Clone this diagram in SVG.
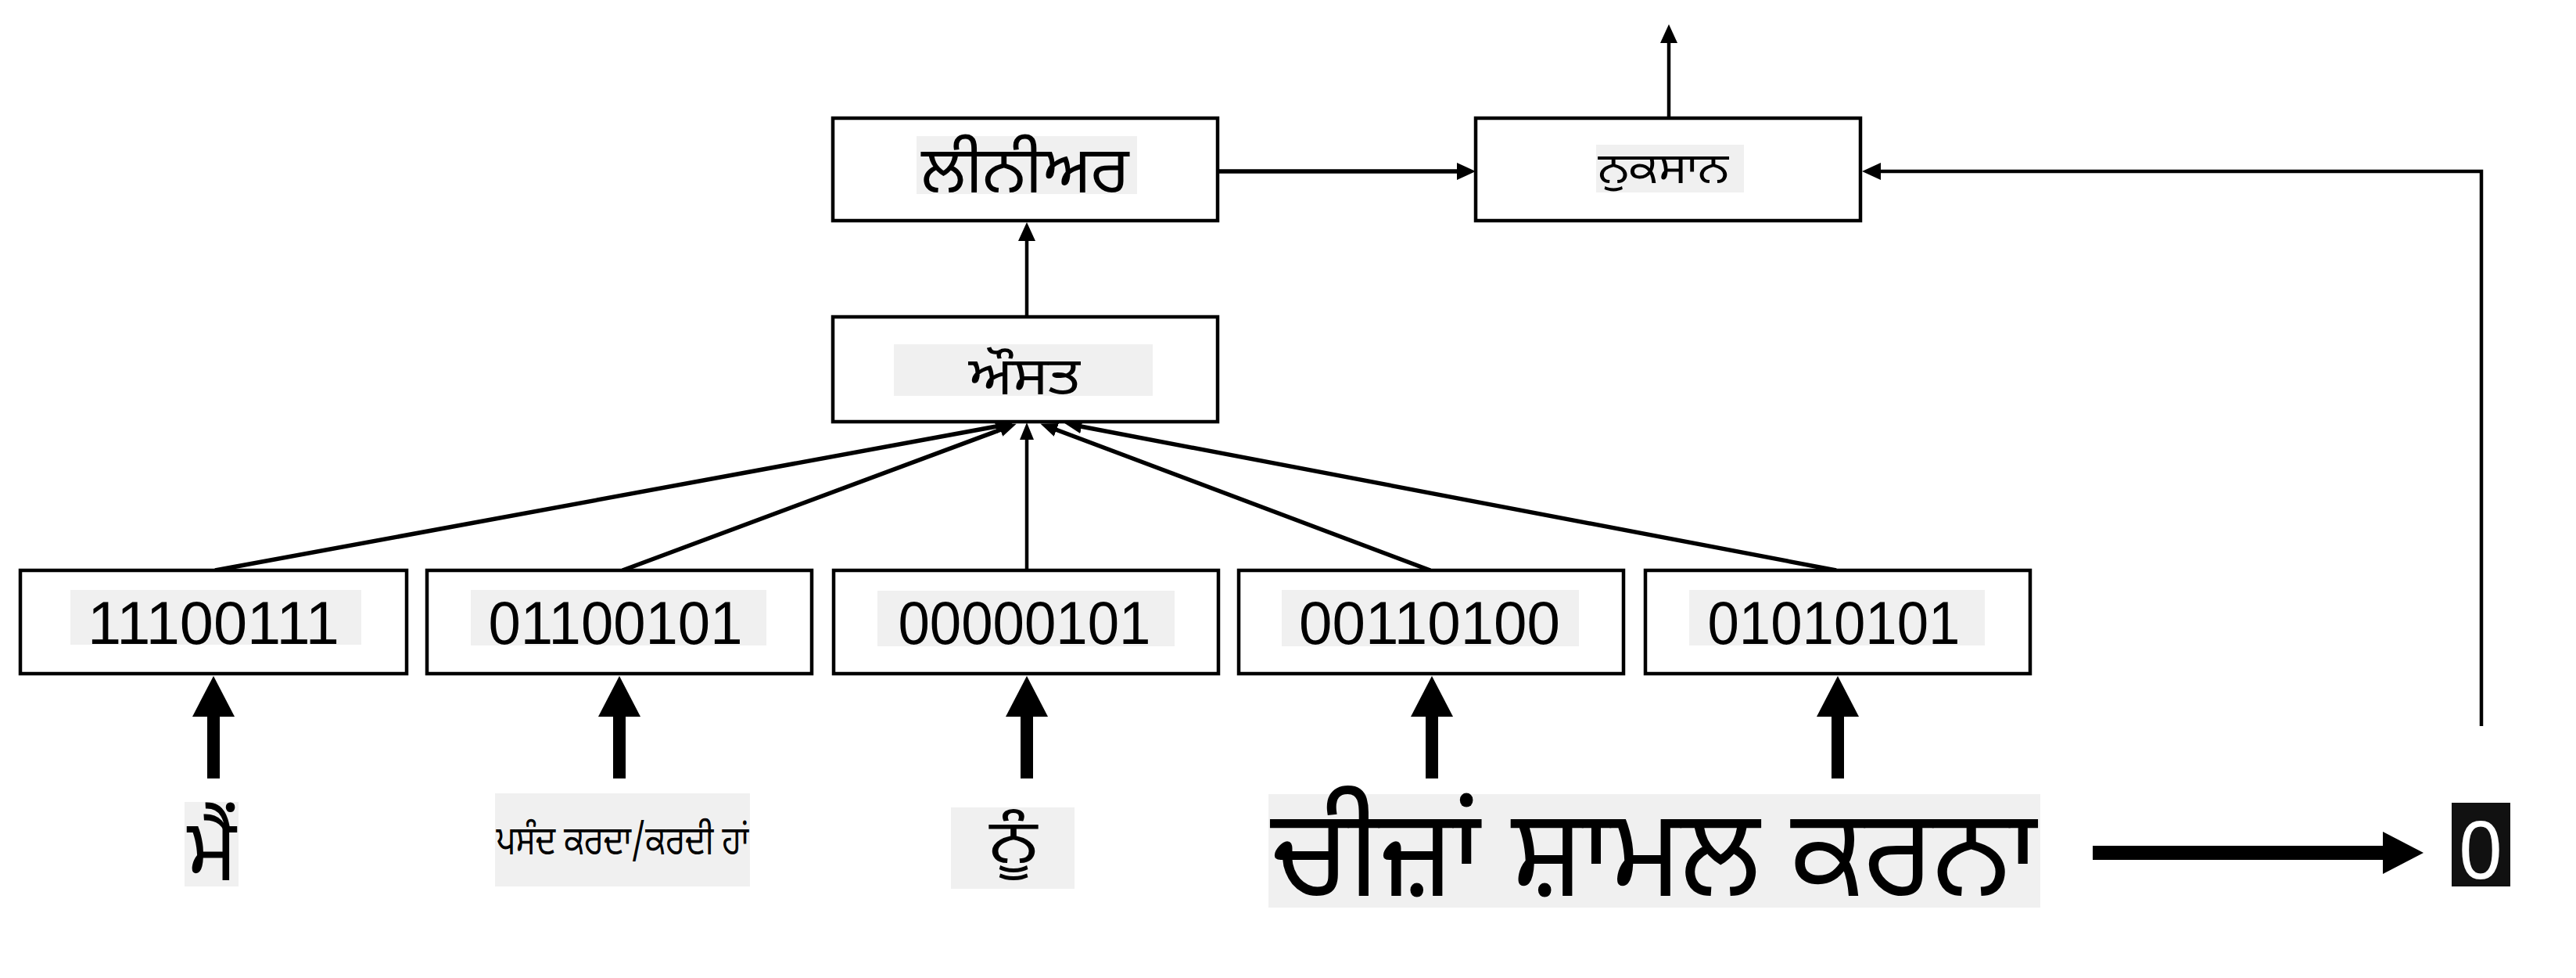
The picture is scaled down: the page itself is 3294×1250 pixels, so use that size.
<svg xmlns="http://www.w3.org/2000/svg" width="3294" height="1250" viewBox="0 0 3294 1250">
<style>
.box{fill:#fff;stroke:#000;stroke-width:4.5}
.bg{fill:#f0f0f0}
.num{font-family:"Liberation Sans",Arial,sans-serif;font-size:78px;fill:#000;text-anchor:middle}
.pa{font-family:"Noto Sans Gurmukhi","Noto Sans","Lohit Gurmukhi",sans-serif;fill:#000;text-anchor:middle}
.thin{fill:none;stroke:#000;stroke-width:4.5}
.diag{fill:none;stroke:#000;stroke-width:5.5}
.thick{fill:none;stroke:#000;stroke-width:16}
</style>
<defs>
<marker id="ah" markerUnits="userSpaceOnUse" viewBox="0 0 24 22" refX="1" refY="11" markerWidth="24" markerHeight="22" orient="auto"><path d="M0,0 L24,11 L0,22 z" fill="#000"/></marker>
<marker id="ahs" markerUnits="userSpaceOnUse" viewBox="0 0 22 18" refX="1" refY="9" markerWidth="22" markerHeight="18" orient="auto"><path d="M0,0 L22,9 L0,18 z" fill="#000"/></marker>
<marker id="ahb" markerUnits="userSpaceOnUse" viewBox="0 0 52 54" refX="1" refY="27" markerWidth="52" markerHeight="54" orient="auto"><path d="M0,0 L52,27 L0,54 z" fill="#000"/></marker>
</defs>
<rect width="3294" height="1250" fill="#fff"/>

<g id="connectors">
<path d="M1557,219 H1864" fill="none" stroke="#000" stroke-width="5.5" marker-end="url(#ah)"/>
<path class="thin" d="M1313,405 V307" marker-end="url(#ah)"/>
<path class="thin" d="M2134,151 V54" marker-end="url(#ah)"/>
<path class="thin" d="M3173,928 V219 H2404" marker-end="url(#ah)"/>
<path class="diag" d="M275,729 L1274,545" marker-end="url(#ahs)"/>
<path class="diag" d="M796,729 L1280,549" marker-end="url(#ahs)"/>
<path class="thin" d="M1313,729 V561" marker-end="url(#ahs)"/>
<path class="diag" d="M1829,729 L1350,549" marker-end="url(#ahs)"/>
<path class="diag" d="M2348,729 L1382,545" marker-end="url(#ahs)"/>
<path class="thick" d="M273,995 V915" marker-end="url(#ahb)"/>
<path class="thick" d="M792,995 V915" marker-end="url(#ahb)"/>
<path class="thick" d="M1313,995 V915" marker-end="url(#ahb)"/>
<path class="thick" d="M1831,995 V915" marker-end="url(#ahb)"/>
<path class="thick" d="M2350,995 V915" marker-end="url(#ahb)"/>
<path d="M2676,1090 H3048" fill="none" stroke="#000" stroke-width="18" marker-end="url(#ahb)"/>
</g>

<g id="linear">
<rect class="box" x="1065" y="151" width="492" height="131"/>
<rect class="bg" x="1172" y="174" width="282" height="74"/>
<text class="pa" x="1311" y="246" font-size="84" textLength="266" lengthAdjust="spacingAndGlyphs">ਲੀਨੀਅਰ</text>
</g>
<g id="loss">
<rect class="box" x="1887" y="151" width="492" height="131"/>
<rect class="bg" x="2041" y="185" width="189" height="61"/>
<text class="pa" x="2127" y="234" font-size="54" textLength="167" lengthAdjust="spacingAndGlyphs">ਨੁਕਸਾਨ</text>
</g>
<g id="average">
<rect class="box" x="1065" y="405" width="492" height="134"/>
<rect class="bg" x="1143" y="440" width="331" height="66"/>
<text class="pa" x="1310" y="504" font-size="68" textLength="143" lengthAdjust="spacingAndGlyphs">ਔਸਤ</text>
</g>

<g id="emb1">
<rect class="box" x="26" y="729" width="494" height="132"/>
<rect class="bg" x="90" y="754" width="372" height="70"/>
<text class="num" x="273" y="823" textLength="322" lengthAdjust="spacingAndGlyphs">11100111</text>
</g>
<g id="emb2">
<rect class="box" x="546" y="729" width="492" height="132"/>
<rect class="bg" x="602" y="754" width="378" height="71"/>
<text class="num" x="787" y="823" textLength="325" lengthAdjust="spacingAndGlyphs">01100101</text>
</g>
<g id="emb3">
<rect class="box" x="1066" y="729" width="492" height="132"/>
<rect class="bg" x="1122" y="755" width="380" height="71"/>
<text class="num" x="1310" y="823" textLength="323" lengthAdjust="spacingAndGlyphs">00000101</text>
</g>
<g id="emb4">
<rect class="box" x="1584" y="729" width="492" height="132"/>
<rect class="bg" x="1639" y="754" width="380" height="72"/>
<text class="num" x="1828" y="823" textLength="334" lengthAdjust="spacingAndGlyphs">00110100</text>
</g>
<g id="emb5">
<rect class="box" x="2104" y="729" width="492" height="132"/>
<rect class="bg" x="2160" y="754" width="378" height="71"/>
<text class="num" x="2345" y="823" textLength="323" lengthAdjust="spacingAndGlyphs">01010101</text>
</g>

<g id="word1">
<rect class="bg" x="236" y="1025" width="69" height="108"/>
<text class="pa" x="271" y="1125" font-size="110" textLength="63" lengthAdjust="spacingAndGlyphs">ਮੈਂ</text>
</g>
<g id="word2">
<rect class="bg" x="633" y="1014" width="326" height="119"/>
<text class="pa" x="796" y="1092" font-size="52" textLength="323" lengthAdjust="spacingAndGlyphs">ਪਸੰਦ ਕਰਦਾ/ਕਰਦੀ ਹਾਂ</text>
</g>
<g id="word3">
<rect class="bg" x="1216" y="1032" width="158" height="104"/>
<text class="pa" x="1296" y="1103" font-size="78" textLength="62" lengthAdjust="spacingAndGlyphs">ਨੂੰ</text>
</g>
<g id="word4">
<rect class="bg" x="1622" y="1015" width="987" height="145"/>
<text class="pa" x="2115" y="1145" font-size="158" textLength="980" lengthAdjust="spacingAndGlyphs">ਚੀਜ਼ਾਂ ਸ਼ਾਮਲ ਕਰਨਾ</text>
</g>
<g id="label">
<rect x="3135" y="1026" width="75" height="107" fill="#111"/>
<text x="3172" y="1123" font-family="Liberation Sans,Arial,sans-serif" font-size="106" fill="#fff" text-anchor="middle" textLength="55" lengthAdjust="spacingAndGlyphs">0</text>
</g>
</svg>
